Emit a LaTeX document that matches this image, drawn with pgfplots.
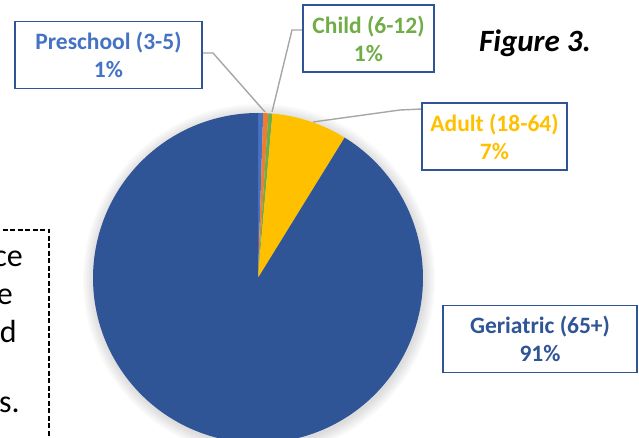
\documentclass[border=0pt]{standalone}
\usepackage{pgfplots}
\pgfplotsset{compat=1.18}
\usepackage{pgfplotstable}
\usepackage{fontspec}
\setmainfont{Carlito}
\definecolor{cPre}{HTML}{4472C4}
\definecolor{cTod}{HTML}{ED7D31}
\definecolor{cChi}{HTML}{70AD47}
\definecolor{cAdu}{HTML}{FFC000}
\definecolor{cGer}{HTML}{2F5597}
\definecolor{cBox}{HTML}{2F5597}
\definecolor{cLead}{HTML}{A6A6A6}
\pgfplotstableread{
group value
Preschool 0.5
Toddler 0.5
Child 0.4
Adult 7.4
Geriatric 91.2
}\piedata
\begin{document}
\begin{tikzpicture}
\useasboundingbox (0,0) rectangle (639pt,438pt);
\pgfplotstablegetelem{0}{value}\of\piedata \pgfmathsetmacro\aA{3.6*\pgfplotsretval}
\pgfplotstablegetelem{1}{value}\of\piedata \pgfmathsetmacro\aB{\aA+3.6*\pgfplotsretval}
\pgfplotstablegetelem{2}{value}\of\piedata \pgfmathsetmacro\aC{\aB+3.6*\pgfplotsretval}
\pgfplotstablegetelem{3}{value}\of\piedata \pgfmathsetmacro\aD{\aC+3.6*\pgfplotsretval}
\pgfplotstablegetelem{4}{value}\of\piedata \pgfmathsetmacro\aE{\aD+3.6*\pgfplotsretval}
% soft shadow
\foreach \r in {166,168,170,172,174,176} {
  \fill[black, opacity=0.025] (259pt,158pt) circle (\r pt);
}
\begin{axis}[at={(258pt,160pt)}, anchor=center, hide axis, scale only axis,
  width=330pt, height=330pt, xmin=-1, xmax=1, ymin=-1, ymax=1, clip=false]
\addplot[draw=none, fill=cPre, domain=0:\aA, samples=5] ({sin(x)},{cos(x)}) -- (axis cs:0,0) -- cycle;
\addplot[draw=none, fill=cTod, domain=\aA:\aB, samples=5] ({sin(x)},{cos(x)}) -- (axis cs:0,0) -- cycle;
\addplot[draw=none, fill=cChi, domain=\aB:\aC, samples=5] ({sin(x)},{cos(x)}) -- (axis cs:0,0) -- cycle;
\addplot[draw=none, fill=cAdu, domain=\aC:\aD, samples=40] ({sin(x)},{cos(x)}) -- (axis cs:0,0) -- cycle;
\addplot[draw=none, fill=cGer, domain=\aD:\aE, samples=200] ({sin(x)},{cos(x)}) -- (axis cs:0,0) -- cycle;
\end{axis}
% leader lines
\draw[cLead, line width=1.4pt] (202pt,385pt) -- (213pt,385pt) -- (265pt,326pt);
\draw[cLead, line width=1.4pt] (303pt,408pt) -- (292pt,408pt) -- (272pt,326pt);
\draw[cLead, line width=1.4pt] (422pt,329pt) -- (400pt,328pt) -- (313pt,316pt);
% label boxes
\tikzset{lbl/.style={draw=cBox, line width=1.5pt, fill=white, minimum height=67pt,
  align=center, inner sep=0pt, font=\fontsize{23.5}{28}\selectfont\bfseries}}
\node[lbl, minimum width=187pt, text=cPre] at (108.5pt,383pt) {Preschool (3-5)\\1\%};
\node[lbl, minimum width=131pt, text=cChi] at (368.5pt,399.5pt) {Child (6-12)\\1\%};
\node[lbl, minimum width=145pt, text=cAdu] at (494.5pt,301.5pt) {Adult (18-64)\\7\%};
\node[lbl, minimum width=194pt, text=cGer] at (540pt,99pt) {Geriatric (65+)\\91\%};
% figure caption
\node[font=\fontsize{31}{36}\selectfont\bfseries\itshape] at (535pt,395pt) {Figure 3.};
% left dashed text box (cut off at the picture's edge, as in the reference)
\draw[black, line width=1.8pt, dash pattern=on 5pt off 2.5pt] (-5pt,208pt) -- (49pt,208pt) -- (49pt,-10pt);
\begin{scope}[every node/.style={font=\fontsize{32}{39}\selectfont, inner sep=0pt, anchor=base east}]
\node at (23pt,171pt) {influence};
\node at (13pt,133pt) {the};
\node at (17pt,95pt) {and};
\node at (20pt,25pt) {groups.};
\end{scope}
\end{tikzpicture}
\end{document}
